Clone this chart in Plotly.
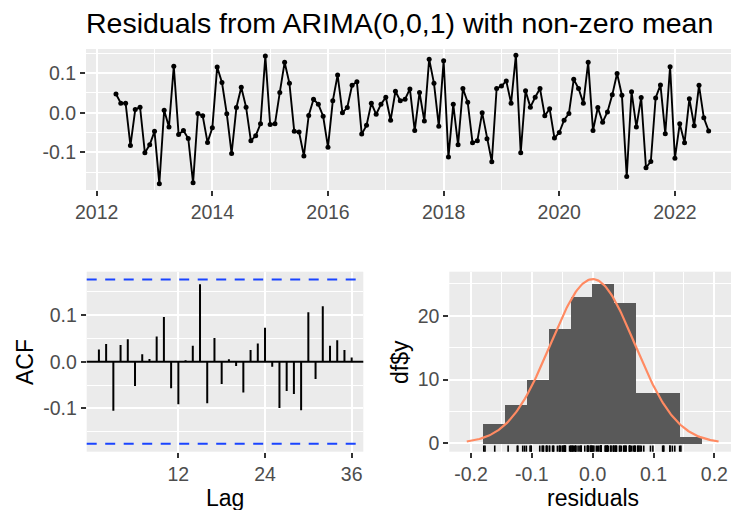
import plotly.graph_objects as go
import numpy as np

# ---------------- data ----------------
START_YEAR = 2012
START_MONTH = 5          # first residual: May 2012
FREQ = 12
residuals = [
    0.047, 0.024, 0.024, -0.083, 0.008, 0.014, -0.101, -0.081, -0.047, -0.179,
    0.006, -0.036, 0.117, -0.055, -0.045, -0.065, -0.177, -0.002, -0.008, -0.075,
    -0.038, 0.115, 0.076, -0.003, -0.103, 0.013, 0.064, 0.014, -0.071, -0.058,
    -0.028, 0.143, -0.030, -0.028, 0.051, 0.127, 0.074, -0.047, -0.049, -0.109,
    -0.007, 0.034, 0.021, -0.009, -0.087, 0.030, 0.095, 0.000, 0.013, 0.069,
    0.078, -0.054, -0.032, 0.024, -0.004, 0.021, 0.039, -0.019, 0.054, 0.030,
    0.034, 0.060, -0.045, 0.051, -0.021, 0.135, 0.074, -0.034, 0.131, -0.112,
    0.021, -0.081, 0.061, 0.026, -0.076, -0.071, 0.000, -0.066, -0.124, 0.061,
    0.067, 0.080, 0.024, 0.145, -0.101, 0.055, 0.014, 0.039, 0.061, -0.008,
    0.010, -0.064, -0.050, -0.019, -0.002, 0.084, 0.061, 0.024, 0.127, -0.045,
    0.013, -0.024, 0.002, 0.045, 0.099, 0.044, -0.161, 0.053, -0.036, 0.038,
    -0.139, -0.123, 0.037, 0.070, -0.053, 0.116, -0.115, -0.028, -0.076, 0.035,
    -0.033, 0.069, -0.013, -0.046,
]

acf_lags = list(range(1, 37))
acf_values = [
    0.026, 0.038, -0.105, 0.036, 0.048, -0.052, 0.016, 0.006, 0.054, 0.096,
    -0.057, -0.091, 0.003, 0.034, 0.166, -0.089, 0.051, -0.048, 0.005, -0.009,
    -0.066, 0.025, 0.039, 0.073, -0.011, -0.099, -0.063, -0.069, -0.104, 0.106,
    -0.037, 0.119, 0.034, 0.046, 0.025, 0.009,
]
acf_ci = 0.176

hist_edges = [-0.1795, -0.1436, -0.1077, -0.0718, -0.0359, 0.0,
              0.0359, 0.0718, 0.1077, 0.1436, 0.1795]
hist_counts = [3, 6, 10, 18, 23, 25, 22, 8, 8, 1]
curve_mean = 0.0
curve_sd = 0.069

title_text = "Residuals from ARIMA(0,0,1) with non-zero mean"

# ---------------- layout helpers ----------------
W, H = 731, 510
FONT = "Liberation Sans, Arial, Helvetica, sans-serif"
TICKC = "#4D4D4D"
BG = "#EBEBEB"

def xd(a, b):
    return [a / W, b / W]

def yd(top, bottom):
    return [1 - bottom / H, 1 - top / H]

times = [START_YEAR + (START_MONTH - 1) / FREQ + i / FREQ for i in range(len(residuals))]

fig = go.Figure()

# top: residual time series
fig.add_trace(go.Scatter(
    x=times, y=residuals, mode="lines+markers",
    line=dict(color="black", width=1.9),
    marker=dict(color="black", size=5),
    xaxis="x", yaxis="y", showlegend=False, hoverinfo="skip"))

# ACF segments
seg_x, seg_y = [], []
for lag, v in zip(acf_lags, acf_values):
    seg_x += [lag, lag, None]
    seg_y += [0, v, None]
fig.add_trace(go.Scatter(
    x=seg_x, y=seg_y, mode="lines", line=dict(color="black", width=2),
    xaxis="x2", yaxis="y2", showlegend=False, hoverinfo="skip"))

# histogram
centers = [(hist_edges[i] + hist_edges[i + 1]) / 2 for i in range(len(hist_counts))]
widths = [hist_edges[i + 1] - hist_edges[i] for i in range(len(hist_counts))]
fig.add_trace(go.Bar(
    x=centers, y=hist_counts, width=widths,
    marker=dict(color="#595959", line=dict(width=0)),
    xaxis="x3", yaxis="y3", showlegend=False, hoverinfo="skip"))

# normal density curve scaled to counts
n = len(residuals)
bw = widths[0]
cx = np.linspace(curve_mean - 3 * curve_sd, curve_mean + 3 * curve_sd, 200)
cy = n * bw * np.exp(-0.5 * ((cx - curve_mean) / curve_sd) ** 2) / (curve_sd * np.sqrt(2 * np.pi))
fig.add_trace(go.Scatter(
    x=cx, y=cy, mode="lines", line=dict(color="#FF8A62", width=2.2),
    xaxis="x3", yaxis="y3", showlegend=False, hoverinfo="skip"))

shapes = []
# ACF zero line and confidence bounds
shapes.append(dict(type="line", xref="x2 domain", yref="y2", x0=0, x1=1, y0=0, y1=0,
                   line=dict(color="black", width=2)))
for s in (acf_ci, -acf_ci):
    shapes.append(dict(type="line", xref="x2 domain", yref="y2", x0=0, x1=1, y0=s, y1=s,
                       line=dict(color="#1A44FF", width=2, dash="10px,8.5px")))
# rug
for r in residuals:
    shapes.append(dict(type="line", xref="x3", yref="y3 domain", x0=r, x1=r, y0=0, y1=0.034,
                       line=dict(color="black", width=1.6)))

axis_common = dict(
    showgrid=True, gridcolor="white", gridwidth=1.8, zeroline=False, automargin=False,
    ticks="outside", ticklen=5, tickwidth=1.6, tickcolor="#333333",
    tickfont=dict(family=FONT, size=19.5, color=TICKC), showline=False,
)

fig.update_layout(
    width=W, height=H,
    margin=dict(l=0, r=0, t=0, b=0, autoexpand=False),
    paper_bgcolor="white", plot_bgcolor=BG,
    shapes=shapes,
    xaxis=dict(domain=xd(86, 731), anchor="y", range=[2011.815, 2022.97],
               tickvals=[2012, 2014, 2016, 2018, 2020, 2022],
               minor=dict(tickvals=[2013, 2015, 2017, 2019, 2021], showgrid=True,
                          gridcolor="white", gridwidth=0.9),
               **axis_common),
    yaxis=dict(domain=yd(49, 190), anchor="x", range=[-0.195, 0.1606],
               tickvals=[-0.1, 0.0, 0.1], ticktext=["-0.1", "0.0", "0.1"],
               minor=dict(tickvals=[-0.15, -0.05, 0.05, 0.15], showgrid=True,
                          gridcolor="white", gridwidth=0.9),
               **axis_common),
    xaxis2=dict(domain=xd(86.7, 363.3), anchor="y2", range=[-0.69, 37.61],
                tickvals=[12, 24, 36], **axis_common),
    yaxis2=dict(domain=yd(271.7, 451.7), anchor="x2", range=[-0.1929, 0.1929],
                tickvals=[-0.1, 0.0, 0.1], ticktext=["-0.1", "0.0", "0.1"],
                minor=dict(tickvals=[-0.15, -0.05, 0.05, 0.15], showgrid=True,
                           gridcolor="white", gridwidth=0.9),
                **axis_common),
    xaxis3=dict(domain=xd(449.3, 731), anchor="y3", range=[-0.2357, 0.2274],
                tickvals=[-0.2, -0.1, 0.0, 0.1, 0.2], ticktext=["-0.2", "-0.1", "0.0", "0.1", "0.2"],
                minor=dict(tickvals=[-0.15, -0.05, 0.05, 0.15], showgrid=True,
                           gridcolor="white", gridwidth=0.9),
                **axis_common),
    yaxis3=dict(domain=yd(271.7, 451.7), anchor="x3", range=[-1.32, 26.9],
                tickvals=[0, 10, 20],
                minor=dict(tickvals=[5, 15, 25], showgrid=True,
                           gridcolor="white", gridwidth=0.9),
                **axis_common),
    bargap=0,
    annotations=[
        dict(text=title_text, xref="paper", yref="paper", x=84 / W, y=1 - 23 / H,
             xanchor="left", yanchor="middle", showarrow=False,
             font=dict(family=FONT, size=28.5, color="black")),
        dict(text="ACF", xref="paper", yref="paper", x=25 / W, y=1 - 362 / H,
             xanchor="center", yanchor="middle", textangle=-90, showarrow=False,
             font=dict(family=FONT, size=23, color="black")),
        dict(text="Lag", xref="paper", yref="paper", x=225 / W, y=1 - 498 / H,
             xanchor="center", yanchor="middle", showarrow=False,
             font=dict(family=FONT, size=23, color="black")),
        dict(text="df$y", xref="paper", yref="paper", x=400 / W, y=1 - 362 / H,
             xanchor="center", yanchor="middle", textangle=-90, showarrow=False,
             font=dict(family=FONT, size=23, color="black")),
        dict(text="residuals", xref="paper", yref="paper", x=593 / W, y=1 - 498 / H,
             xanchor="center", yanchor="middle", showarrow=False,
             font=dict(family=FONT, size=23, color="black")),
    ],
)

fig.write_html("out.html")
